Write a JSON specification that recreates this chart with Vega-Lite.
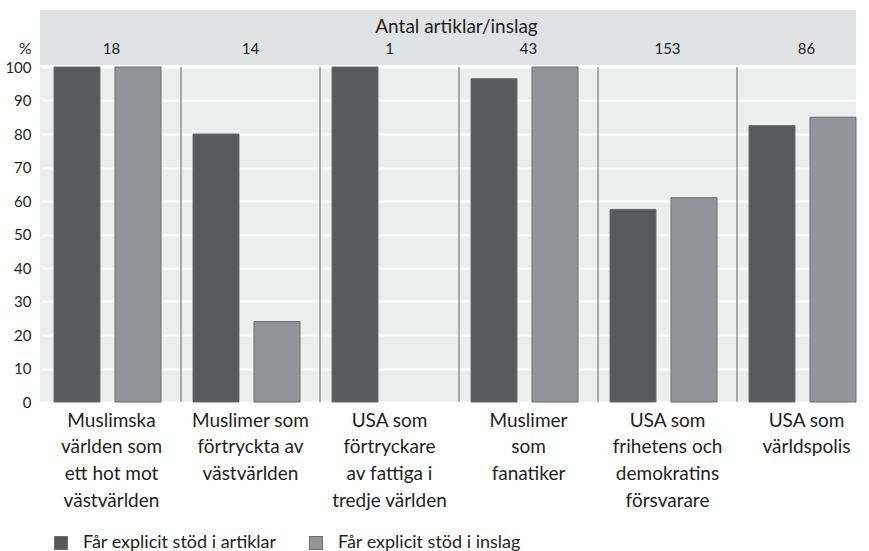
{
  "$schema": "https://vega.github.io/schema/vega-lite/v6.json",
  "padding": {"left": 4, "top": 10, "right": 10, "bottom": 0},
  "background": "white",
  "bounds": "flush",
  "spacing": 2,
  "datasets": {
    "groups": [
      {"group": "Muslimska|världen som|ett hot mot|västvärlden", "count": "18", "row": "count"},
      {"group": "Muslimer som|förtryckta av|västvärlden", "count": "14", "row": "count"},
      {"group": "USA som|förtryckare|av fattiga i|tredje världen", "count": "1", "row": "count"},
      {"group": "Muslimer|som|fanatiker", "count": "43", "row": "count"},
      {"group": "USA som|frihetens och|demokratins|försvarare", "count": "153", "row": "count"},
      {"group": "USA som|världspolis", "count": "86", "row": "count"}
    ],
    "bars": [
      {"group": "Muslimska|världen som|ett hot mot|västvärlden", "series": "Får explicit stöd i artiklar", "value": 100},
      {"group": "Muslimska|världen som|ett hot mot|västvärlden", "series": "Får explicit stöd i inslag", "value": 100},
      {"group": "Muslimer som|förtryckta av|västvärlden", "series": "Får explicit stöd i artiklar", "value": 80},
      {"group": "Muslimer som|förtryckta av|västvärlden", "series": "Får explicit stöd i inslag", "value": 24},
      {"group": "USA som|förtryckare|av fattiga i|tredje världen", "series": "Får explicit stöd i artiklar", "value": 100},
      {"group": "Muslimer|som|fanatiker", "series": "Får explicit stöd i artiklar", "value": 96.5},
      {"group": "Muslimer|som|fanatiker", "series": "Får explicit stöd i inslag", "value": 100},
      {"group": "USA som|frihetens och|demokratins|försvarare", "series": "Får explicit stöd i artiklar", "value": 57.5},
      {"group": "USA som|frihetens och|demokratins|försvarare", "series": "Får explicit stöd i inslag", "value": 61},
      {"group": "USA som|världspolis", "series": "Får explicit stöd i artiklar", "value": 82.5},
      {"group": "USA som|världspolis", "series": "Får explicit stöd i inslag", "value": 85}
    ]
  },
  "vconcat": [
    {
      "width": 816,
      "height": 55,
      "view": {"fill": "#e1e2e3", "stroke": null},
      "data": {"name": "groups"},
      "mark": {"type": "text", "font": "Lato", "fontSize": 15, "color": "#231f20", "baseline": "middle"},
      "encoding": {
        "x": {"field": "group", "type": "nominal", "sort": null,
              "scale": {"domain": ["Muslimska|världen som|ett hot mot|västvärlden", "Muslimer som|förtryckta av|västvärlden", "USA som|förtryckare|av fattiga i|tredje världen", "Muslimer|som|fanatiker", "USA som|frihetens och|demokratins|försvarare", "USA som|världspolis"], "range": [2, 836], "paddingInner": 0, "paddingOuter": 0},
              "axis": null},
        "y": {"field": "row", "type": "nominal",
              "scale": {"type": "point", "domain": ["title", "count"], "padding": 0.75},
              "axis": {"title": "Antal artiklar/inslag", "titleAngle": 0, "titleX": 416, "titleY": 16, "titleAlign": "center", "titleBaseline": "middle", "titleFont": "Lato", "titleFontSize": 19, "titleFontWeight": "normal", "titleColor": "#231f20",
                       "domain": false, "ticks": false, "grid": false, "labelExpr": "datum.value == 'count' ? '%' : ''", "labelFont": "Lato", "labelFontSize": 16, "labelColor": "#231f20", "labelPadding": 9}},
        "text": {"field": "count"}
      }
    },
    {
      "width": 816,
      "height": 335,
      "view": {"fill": "#eceeed", "stroke": null},
      "layer": [
        {
          "data": {"name": "bars"},
          "mark": {"type": "bar", "stroke": "#6b6c6e", "strokeWidth": 1},
          "encoding": {
            "x": {"field": "group", "type": "nominal", "sort": null,
                  "scale": {"domain": ["Muslimska|världen som|ett hot mot|västvärlden", "Muslimer som|förtryckta av|västvärlden", "USA som|förtryckare|av fattiga i|tredje världen", "Muslimer|som|fanatiker", "USA som|frihetens och|demokratins|försvarare", "USA som|världspolis"], "range": [2, 836], "paddingInner": 0, "paddingOuter": 0},
                  "axis": {"title": null, "orient": "bottom", "domain": false, "ticks": false, "labelAngle": 0, "labelExpr": "split(datum.value, '|')", "labelFont": "Lato", "labelFontSize": 19, "labelLineHeight": 26.7, "labelColor": "#231f20", "labelPadding": 9, "labelBaseline": "top"}},
            "xOffset": {"field": "series", "type": "nominal", "scale": {"range": [12, 119], "paddingInner": 0.246, "paddingOuter": 0}},
            "y": {"field": "value", "type": "quantitative",
                  "scale": {"domain": [0, 100], "nice": false},
                  "axis": {"title": null, "values": [0, 10, 20, 30, 40, 50, 60, 70, 80, 90, 100], "domain": false, "ticks": false, "gridColor": "white", "gridWidth": 2, "gridOpacity": 1, "labelFont": "Lato", "labelFontSize": 15, "labelColor": "#231f20", "labelPadding": 9}},
            "color": {"field": "series", "type": "nominal",
                      "scale": {"domain": ["Får explicit stöd i artiklar", "Får explicit stöd i inslag"], "range": ["#58595b", "#939497"]},
                      "legend": {"title": null, "orient": "bottom", "direction": "horizontal", "symbolType": "square", "symbolSize": 169, "symbolStrokeColor": "#6b6c6e", "symbolStrokeWidth": 1, "symbolOpacity": 1, "labelFont": "Lato", "labelFontSize": 18, "labelOffset": 13, "labelLimit": 400, "labelColor": "#231f20", "columnPadding": 30, "padding": 12, "offset": 11}}
          }
        },
        {
          "data": {"name": "groups"},
          "transform": [{"filter": "datum.count != '18'"}],
          "mark": {"type": "rule", "color": "#666666", "strokeWidth": 1},
          "encoding": {
            "x": {"field": "group", "type": "nominal", "bandPosition": 0}
          }
        }
      ]
    }
  ],
  "config": {"view": {"stroke": null}}
}
